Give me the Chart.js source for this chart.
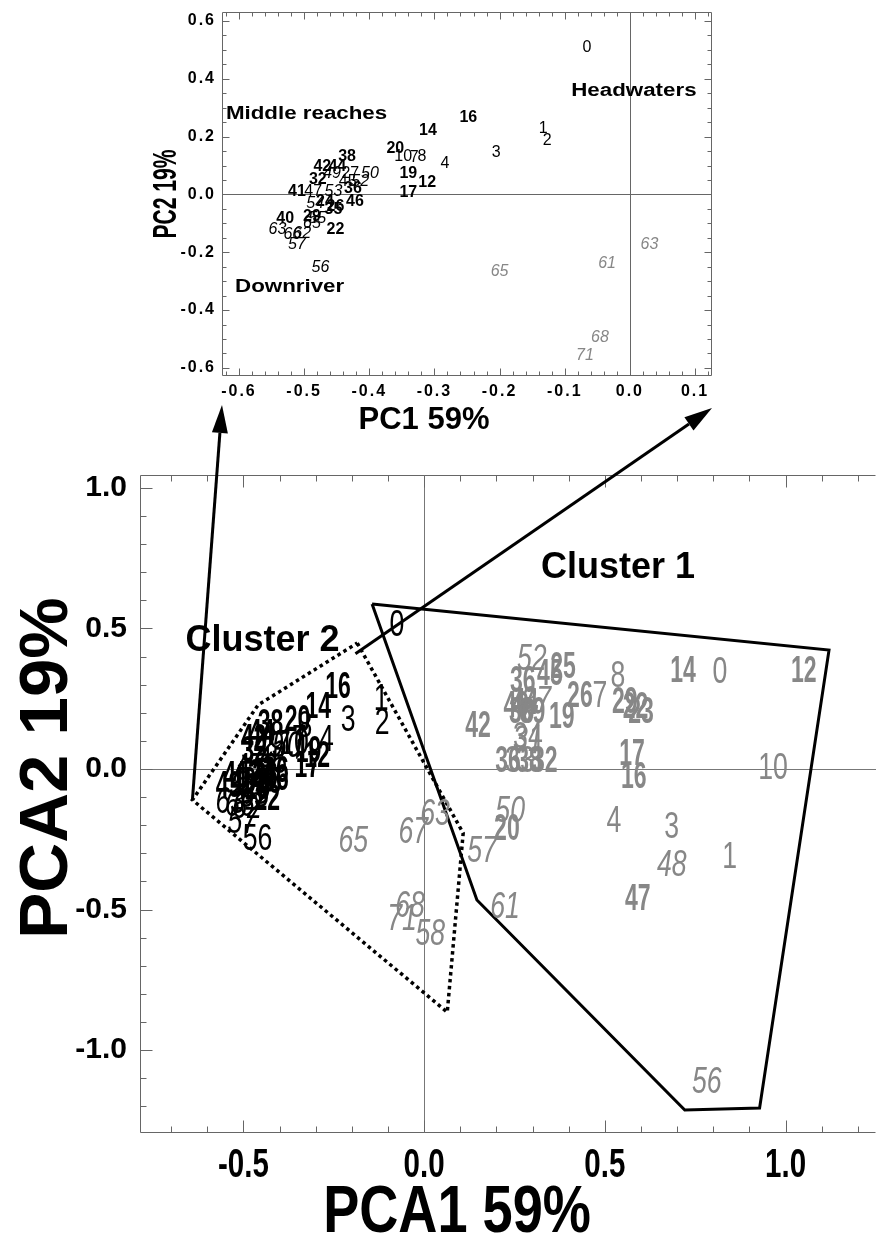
<!DOCTYPE html>
<html>
<head>
<meta charset="utf-8">
<script src="https://cdn.jsdelivr.net/npm/chart.js@4.4.1/dist/chart.umd.min.js"></script>
<style>
  html, body { margin: 0; padding: 0; background: #fff; }
  #wrap { position: relative; width: 876px; height: 1243px; }
  #wrap canvas { position: absolute; left: 0; top: 0; }
</style>
</head>
<body>
<div id="wrap">
  <canvas id="mainChart" width="876" height="1243"></canvas>
  <canvas id="insetChart" width="876" height="440"></canvas>
</div>
<script>
// ---- inset (PC1 / PC2) ----
const insetXTicks = [-0.6, -0.5, -0.4, -0.3, -0.2, -0.1, 0.0, 0.1];
const insetYTicks = [-0.6, -0.4, -0.2, 0.0, 0.2, 0.4, 0.6];

// [label, PC1, PC2]
const insetPlain = [['0',-0.066,0.509],['1',-0.133,0.226],['2',-0.127,0.185],['3',-0.205,0.143],['4',-0.284,0.105],
  ['10',-0.348,0.13],['7',-0.331,0.128],['8',-0.319,0.13],['27',-0.429,0.073],['45',-0.433,0.045],['47',-0.486,0.01]];
const insetBold = [['16',-0.248,0.265],['14',-0.31,0.22],['20',-0.36,0.16],['19',-0.34,0.073],['12',-0.311,0.042],
  ['17',-0.34,0.007],['38',-0.434,0.132],['42',-0.472,0.098],['44',-0.449,0.098],['32',-0.479,0.052],['36',-0.425,0.021],
  ['41',-0.511,0.01],['46',-0.422,-0.024],['24',-0.468,-0.024],['26',-0.452,-0.042],['35',-0.455,-0.052],
  ['29',-0.488,-0.077],['40',-0.529,-0.084],['22',-0.452,-0.122]];
const insetItalic = [['50',-0.399,0.073],['49',-0.457,0.073],['52',-0.414,0.045],['53',-0.455,0.01],['54',-0.483,-0.031],
  ['55',-0.48,-0.084],['65',-0.488,-0.101],['63',-0.541,-0.122],['66',-0.518,-0.139],['62',-0.503,-0.136],
  ['57',-0.511,-0.174],['56',-0.475,-0.254]];
const insetGrey = [['65',-0.2,-0.268],['61',-0.035,-0.24],['63',0.03,-0.174],['68',-0.046,-0.495],['71',-0.069,-0.557]];
const insetNotes = [['Middle reaches',-0.62,0.279],['Headwaters',-0.09,0.359],['Downriver',-0.606,-0.32]];

// ---- main (PCA1 / PCA2) ----
const mainXTicks = [-0.5, 0.0, 0.5, 1.0];
const mainYTicks = [-1.0, -0.5, 0.0, 0.5, 1.0];

const mainBlackPlain = [['0',-0.075,0.51],['1',-0.119,0.245],['2',-0.116,0.16],['3',-0.21,0.17],['4',-0.27,0.1],
  ['8',-0.33,0.15],['10',-0.36,0.09],['7',-0.345,0.1],['56',-0.461,-0.253],['27',-0.41,0.08],['45',-0.42,0.02],['47',-0.48,0.0]];
const mainBlackBold = [['16',-0.238,0.288],['14',-0.293,0.216],['20',-0.35,0.17],['38',-0.425,0.157],['42',-0.472,0.103],
  ['44',-0.45,0.12],['19',-0.32,0.06],['12',-0.296,0.043],['17',-0.323,0.007],['22',-0.434,-0.11],['41',-0.52,-0.03],
  ['43',-0.541,-0.064],['40',-0.5,-0.05],['36',-0.41,-0.01],['46',-0.41,-0.04],['35',-0.43,-0.05],['29',-0.46,-0.07],
  ['32',-0.47,0.06],['24',-0.45,-0.02],['26',-0.44,-0.03]];
const mainBlackItalic = [['57',-0.503,-0.192],['63',-0.536,-0.121],['62',-0.49,-0.14],['66',-0.51,-0.13],['65',-0.47,-0.09],
  ['53',-0.45,0.0],['52',-0.48,-0.03],['50',-0.38,0.08],['49',-0.43,0.08],['55',-0.47,-0.1],['54',-0.48,-0.05]];
const mainGreyPlain = [['0',0.818,0.34],['10',0.965,0.0],['4',0.525,-0.19],['3',0.685,-0.21],['1',0.845,-0.317],
  ['8',0.536,0.327],['7',0.486,0.256],['34',0.287,0.11],['33',0.265,0.025]];
const mainGreyBold = [['12',1.05,0.345],['14',0.716,0.345],['17',0.575,0.05],['16',0.58,-0.032],['47',0.591,-0.466],
  ['29',0.555,0.235],['22',0.585,0.215],['23',0.6,0.2],['42',0.149,0.15],['19',0.381,0.181],['25',0.384,0.36],
  ['45',0.348,0.335],['36',0.273,0.31],['20',0.229,-0.217],['32',0.334,0.025],['36',0.232,0.025],['38',0.29,0.025],
  ['40',0.255,0.22],['44',0.28,0.23],['30',0.27,0.2],['39',0.3,0.2],['26',0.431,0.256]];
const mainGreyItalic = [['52',0.298,0.388],['50',0.238,-0.153],['57',0.16,-0.295],['63',0.03,-0.164],['67',-0.03,-0.228],
  ['65',-0.196,-0.26],['61',0.224,-0.495],['68',-0.039,-0.49],['71',-0.061,-0.537],['58',0.017,-0.59],
  ['48',0.685,-0.345],['56',0.782,-1.117],['31',0.287,0.1],['37',0.31,0.24]];

const cluster1X = [-0.144, 1.12, 0.928, 0.721, 0.146, -0.144];
const cluster1Y = [0.587, 0.423, -1.206, -1.213, -0.466, 0.587];
const cluster2X = [-0.185, 0.108, 0.064, -0.641, -0.459, -0.185];
const cluster2Y = [0.448, -0.228, -0.865, -0.11, 0.228, 0.448];
const mainNotes = [['Cluster 1',0.323,0.715],['Cluster 2',-0.66,0.455]];

const GREY = '#878787';
const SANS = "'Liberation Sans', Arial, sans-serif";

function pts(list) { return list.map(d => ({ x: d[1], y: d[2], t: d[0] })); }
function labelSet(list, font, color, squeeze) {
  return { data: pts(list), pointRadius: 0, labelFont: font, labelColor: color, squeeze: squeeze || 1 };
}

// text helper: sx squeezes/stretches along the text direction
function text(ctx, str, x, y, o) {
  ctx.save();
  ctx.font = o.font;
  ctx.fillStyle = o.color || '#000';
  ctx.textAlign = o.align || 'center';
  ctx.textBaseline = 'middle';
  if (o.spacing) ctx.letterSpacing = o.spacing;
  ctx.translate(x, y);
  if (o.rotate) ctx.rotate(o.rotate);
  ctx.scale(o.sx || 1, 1);
  ctx.fillText(str, 0, 0);
  ctx.restore();
}

// draws the point labels (the number is the marker)
const labelPlugin = {
  id: 'pointLabels',
  afterDatasetsDraw(chart) {
    chart.data.datasets.forEach((ds, i) => {
      if (!ds.labelFont) return;
      chart.getDatasetMeta(i).data.forEach((el, j) => {
        text(chart.ctx, ds.data[j].t, el.x, el.y, { font: ds.labelFont, color: ds.labelColor, sx: ds.squeeze });
      });
    });
  }
};

// frame, zero lines and inward ticks
function frameTicks(chart, o) {
  const { ctx, chartArea: a, scales: { x, y } } = chart;
  ctx.save();
  ctx.strokeStyle = o.color;
  ctx.lineWidth = 1;
  const ln = (x1, y1, x2, y2) => { ctx.beginPath(); ctx.moveTo(x1, y1); ctx.lineTo(x2, y2); ctx.stroke(); };
  const L = a.left + 0.5, R = a.right - 0.5, T = a.top + 0.5, B = a.bottom - 0.5;
  ln(L, T, L, B); ln(L, B, R, B); ln(L, T, R, T);
  if (o.right) ln(R, T, R, B);
  const x0 = Math.round(x.getPixelForValue(0)) + 0.5, y0 = Math.round(y.getPixelForValue(0)) + 0.5;
  ctx.strokeStyle = o.zero;
  ln(x0, a.top, x0, a.bottom); ln(a.left, y0, a.right, y0);
  ctx.strokeStyle = o.color;
  for (let k = Math.ceil(x.min / o.xStep - 1e-6); k * o.xStep <= x.max + 1e-9; k++) {
    const px = Math.round(x.getPixelForValue(k * o.xStep)) + 0.5;
    const len = (k % o.xMajorEvery === 0) ? o.major : o.minor;
    ln(px, B, px, B - len); ln(px, T, px, T + len);
  }
  for (let k = Math.ceil(y.min / o.yStep - 1e-6); k * o.yStep <= y.max + 1e-9; k++) {
    const py = Math.round(y.getPixelForValue(k * o.yStep)) + 0.5;
    const len = (k % o.yMajorEvery === 0) ? o.major : o.minor;
    ln(L, py, L + len, py);
    if (o.right) ln(R, py, R - len, py);
  }
  ctx.restore();
}

// tick labels and axis titles
function axisText(chart, o) {
  const { ctx, chartArea: a, scales: { x, y } } = chart;
  x.ticks.forEach(t => text(ctx, t.value.toFixed(1), x.getPixelForValue(t.value), a.bottom + o.xTickGap, o.xTick));
  y.ticks.forEach(t => text(ctx, t.value.toFixed(1), a.left - o.yTickGap, y.getPixelForValue(t.value), o.yTick));
  text(ctx, o.xTitle.text, o.xTitle.x, o.xTitle.y, o.xTitle);
  text(ctx, o.yTitle.text, o.yTitle.x, o.yTitle.y, Object.assign({ rotate: -Math.PI / 2 }, o.yTitle));
}

function notes(chart, list, opts) {
  const { ctx, scales: { x, y } } = chart;
  list.forEach(n => text(ctx, n[0], x.getPixelForValue(n[1]), y.getPixelForValue(n[2]), Object.assign({ align: 'left' }, opts)));
}

function fixedTicks(arr) { return s => { s.ticks = arr.map(v => ({ value: v })); }; }
const hidden = { grid: { display: false, drawTicks: false }, border: { display: false }, ticks: { display: false } };

// ---------- inset chart ----------
const insetChart = new Chart(document.getElementById('insetChart'), {
  type: 'scatter',
  data: {
    datasets: [
      labelSet(insetPlain, `16px ${SANS}`, '#000'),
      labelSet(insetBold, `bold 16px ${SANS}`, '#000'),
      labelSet(insetItalic, `italic 16px ${SANS}`, '#000'),
      labelSet(insetGrey, `italic 16px ${SANS}`, GREY)
    ]
  },
  options: {
    responsive: false,
    animation: false,
    events: [],
    layout: { padding: { top: 12, right: 164, left: 0, bottom: 0 } },
    plugins: { legend: { display: false }, tooltip: { enabled: false } },
    scales: {
      x: Object.assign({ type: 'linear', min: -0.626, max: 0.126,
        afterBuildTicks: fixedTicks(insetXTicks), afterFit: s => { s.height = 64; } }, hidden),
      y: Object.assign({ type: 'linear', min: -0.628, max: 0.631,
        afterBuildTicks: fixedTicks(insetYTicks), afterFit: s => { s.width = 222; } }, hidden)
    }
  },
  plugins: [{
    id: 'insetFrame',
    beforeDatasetsDraw(chart) {
      frameTicks(chart, { color: '#666', zero: '#666', right: true, xStep: 0.02, xMajorEvery: 5, yStep: 0.05, yMajorEvery: 4, major: 7, minor: 4 });
      notes(chart, insetNotes, { font: `bold 18px ${SANS}`, sx: 1.24 });
      axisText(chart, {
        xTick: { font: `bold 16px ${SANS}`, spacing: '2px' }, xTickGap: 16,
        yTick: { font: `bold 16px ${SANS}`, spacing: '2px', align: 'right' }, yTickGap: 6,
        xTitle: { text: 'PC1 59%', x: 424, y: 420, font: `bold 31px ${SANS}` },
        yTitle: { text: 'PC2 19%', x: 167, y: 194, font: `bold 34px ${SANS}`, sx: 0.62 }
      });
    }
  }, labelPlugin]
});

// ---------- main chart ----------
function arrow(ctx, x1, y1, x2, y2) {
  const ang = Math.atan2(y2 - y1, x2 - x1), head = 28, half = 8;
  const bx = x2 - head * Math.cos(ang), by = y2 - head * Math.sin(ang);
  ctx.beginPath(); ctx.moveTo(x1, y1); ctx.lineTo(bx, by); ctx.stroke();
  ctx.beginPath();
  ctx.moveTo(x2, y2);
  ctx.lineTo(bx + half * Math.sin(ang), by - half * Math.cos(ang));
  ctx.lineTo(bx - half * Math.sin(ang), by + half * Math.cos(ang));
  ctx.closePath(); ctx.fill();
}

new Chart(document.getElementById('mainChart'), {
  type: 'scatter',
  data: {
    datasets: [
      { data: cluster1X.map((v, i) => ({ x: v, y: cluster1Y[i] })), showLine: true, pointRadius: 0, borderColor: '#000', borderWidth: 3, borderJoinStyle: 'miter', fill: false },
      { data: cluster2X.map((v, i) => ({ x: v, y: cluster2Y[i] })), showLine: true, pointRadius: 0, borderColor: '#000', borderWidth: 3.5, borderDash: [3.5, 3.5], fill: false },
      labelSet(mainGreyPlain, `36px ${SANS}`, GREY, 0.74),
      labelSet(mainGreyItalic, `italic 36px ${SANS}`, GREY, 0.74),
      labelSet(mainGreyBold, `bold 36px ${SANS}`, GREY, 0.64),
      labelSet(mainBlackPlain, `36px ${SANS}`, '#000', 0.74),
      labelSet(mainBlackItalic, `italic 36px ${SANS}`, '#000', 0.74),
      labelSet(mainBlackBold, `bold 36px ${SANS}`, '#000', 0.64)
    ]
  },
  options: {
    responsive: false,
    animation: false,
    events: [],
    layout: { padding: { top: 475, right: 0, left: 0, bottom: 0 } },
    plugins: { legend: { display: false }, tooltip: { enabled: false } },
    scales: {
      x: Object.assign({ type: 'linear', min: -0.786, max: 1.25,
        afterBuildTicks: fixedTicks(mainXTicks), afterFit: s => { s.height = 110; } }, hidden),
      y: Object.assign({ type: 'linear', min: -1.295, max: 1.046,
        afterBuildTicks: fixedTicks(mainYTicks), afterFit: s => { s.width = 140; } }, hidden)
    }
  },
  plugins: [{
    id: 'mainFrame',
    beforeDatasetsDraw(chart) {
      frameTicks(chart, { color: '#666', zero: '#777', right: false, xStep: 0.1, xMajorEvery: 5, yStep: 0.1, yMajorEvery: 5, major: 12, minor: 6 });
      axisText(chart, {
        xTick: { font: `bold 41px ${SANS}`, sx: 0.72 }, xTickGap: 33,
        yTick: { font: `bold 30px ${SANS}`, align: 'right' }, yTickGap: 13,
        xTitle: { text: 'PCA1 59%', x: 457, y: 1214, font: `bold 66px ${SANS}`, sx: 0.82 },
        yTitle: { text: 'PCA2 19%', x: 48, y: 768, font: `bold 69px ${SANS}` }
      });
    },
    afterDraw(chart) {
      const { ctx, scales: { x, y } } = chart;
      notes(chart, mainNotes, { font: `bold 36px ${SANS}` });
      // arrows linking the clusters to the inset plot
      const ia = insetChart.chartArea;
      ctx.save();
      ctx.strokeStyle = '#000'; ctx.fillStyle = '#000'; ctx.lineWidth = 3;
      arrow(ctx, x.getPixelForValue(cluster2X[3]), y.getPixelForValue(cluster2Y[3]), ia.left, ia.bottom + 29);
      arrow(ctx, x.getPixelForValue(-0.19), y.getPixelForValue(0.41), ia.right, ia.bottom + 32);
      ctx.restore();
    }
  }, labelPlugin]
});
</script>
</body>
</html>
